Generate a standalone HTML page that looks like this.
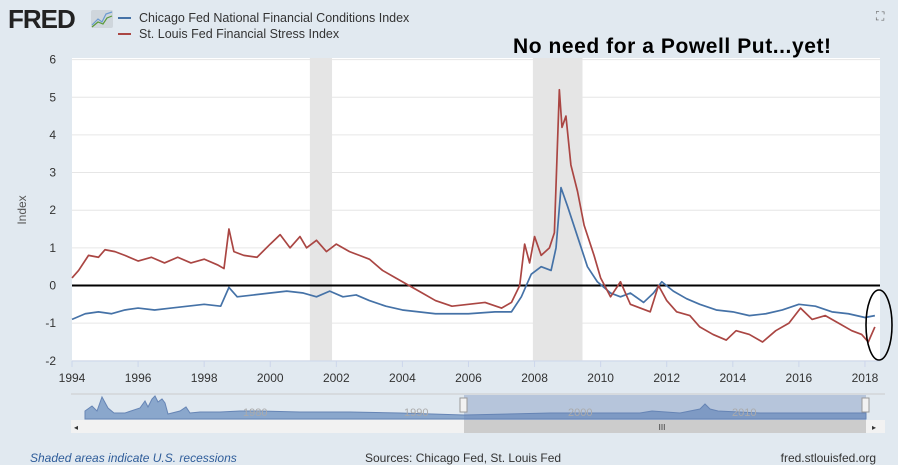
<!DOCTYPE html>
<html><head><meta charset="utf-8"><style>
body{margin:0;background:#e1e9f0;font-family:"Liberation Sans",sans-serif;}
#wrap{position:relative;width:898px;height:465px;overflow:hidden;background:#e1e9f0}
</style></head><body>
<div id="wrap">
<svg id="svg" width="898" height="465" xmlns="http://www.w3.org/2000/svg">
<text x="8" y="28" font-size="26" font-weight="bold" fill="#222" font-family="Liberation Sans" letter-spacing="-1">FRED</text>
<g><rect x="91" y="10" width="22" height="18" rx="2" fill="#cfd6dc"/><polyline points="92,25 98,19 102,22 106,14 112,12" fill="none" stroke="#6a9ad0" stroke-width="1.2"/><polyline points="92,27 98,22 103,24 107,18 112,16" fill="none" stroke="#5a9a3a" stroke-width="1.2"/></g>
<line x1="118" y1="18" x2="131" y2="18" stroke="#4572a7" stroke-width="2"/>
<text x="139" y="22" font-size="12.5" fill="#333">Chicago Fed National Financial Conditions Index</text>
<line x1="118" y1="34" x2="131" y2="34" stroke="#aa4643" stroke-width="2"/>
<text x="139" y="38" font-size="12.5" fill="#333">St. Louis Fed Financial Stress Index</text>
<text x="876" y="20" font-size="12" fill="#666">⛶</text>
<rect x="72" y="58" width="808" height="303" fill="#fff"/>
<g id="grid"></g><g id="rec"></g><g id="series"></g><g id="axes"></g>
<text x="513" y="53" font-size="21" font-weight="bold" fill="#000" textLength="318">No need for a Powell Put...yet!</text>
<ellipse cx="879" cy="325" rx="13" ry="35" fill="none" stroke="#000" stroke-width="1.6"/>
<text transform="translate(26,210) rotate(-90)" font-size="12" fill="#555" text-anchor="middle">Index</text>
<g>
<line x1="71" y1="394" x2="885" y2="394" stroke="#ccc"/>
<path d="M85,411 L92,406 L97,411 L102,397 L108,408 L114,413 L125,413 L140,408 L145,401 L148,407 L152,399 L155,396 L158,402 L162,399 L165,403 L168,414 L180,411 L186,407 L190,413 L200,412 L220,412 L240,411 L260,411 L300,412 L350,412 L400,413 L464,415 L550,413 L600,413 L640,413 L652,411 L680,413 L700,409 L705,404 L710,409 L718,411 L760,413 L866,413 L866,419 L85,419 Z" fill="#8aa7cc" stroke="#6685b5"/>
<rect x="464" y="395" width="402" height="25" fill="#6685b5" fill-opacity="0.35"/>
<text x="243" y="416" font-size="11" fill="#aaa">1980</text><text x="404" y="416" font-size="11" fill="#aaa">1990</text><text x="568" y="416" font-size="11" fill="#aaa">2000</text><text x="732" y="416" font-size="11" fill="#aaa">2010</text>
<rect x="460" y="398" width="7" height="14" fill="#f2f2f2" stroke="#999"/><rect x="862" y="398" width="7" height="14" fill="#f2f2f2" stroke="#999"/>
<rect x="71" y="420" width="814" height="13" fill="#f2f2f2"/>
<rect x="464" y="420" width="402" height="13" fill="#ccc"/>
<text x="662" y="430" font-size="8" fill="#333" text-anchor="middle">III</text>
<text x="74" y="430" font-size="8" fill="#333">◂</text><text x="872" y="430" font-size="8" fill="#333">▸</text>
</g>
<text x="30" y="462" font-size="12" font-style="italic" fill="#2f5d9a">Shaded areas indicate U.S. recessions</text>
<text x="365" y="462" font-size="12" fill="#333">Sources: Chicago Fed, St. Louis Fed</text>
<text x="876" y="462" font-size="12" fill="#333" text-anchor="end">fred.stlouisfed.org</text>
</svg></div>
<script>
const yTicks=[-2,-1,0,1,2,3,4,5,6];
const xTicks=[1994,1996,1998,2000,2002,2004,2006,2008,2010,2012,2014,2016,2018];
const recessions=[[2001.2,2001.87],[2007.95,2009.45]];
const redDates=[1994,1994.2,1994.5,1994.8,1995,1995.3,1995.6,1996,1996.4,1996.8,1997.2,1997.6,1998,1998.4,1998.6,1998.75,1998.9,1999.2,1999.6,2000,2000.3,2000.6,2000.9,2001.1,2001.4,2001.7,2002,2002.4,2002.7,2003,2003.4,2003.8,2004.2,2004.6,2005,2005.5,2006,2006.5,2007,2007.3,2007.55,2007.7,2007.85,2008,2008.2,2008.45,2008.6,2008.75,2008.83,2008.95,2009.1,2009.3,2009.5,2009.8,2010,2010.3,2010.6,2010.9,2011.2,2011.5,2011.75,2012,2012.3,2012.7,2013,2013.4,2013.8,2014.1,2014.5,2014.9,2015.3,2015.7,2016.05,2016.4,2016.8,2017.2,2017.6,2017.9,2018.1,2018.3];
const redVals=[0.2,0.4,0.8,0.75,0.95,0.9,0.8,0.65,0.75,0.6,0.75,0.6,0.7,0.55,0.45,1.5,0.9,0.8,0.75,1.1,1.35,1.0,1.3,1.0,1.2,0.9,1.1,0.9,0.8,0.7,0.4,0.2,0.0,-0.2,-0.4,-0.55,-0.5,-0.45,-0.6,-0.45,0.0,1.1,0.6,1.3,0.8,1.0,1.4,5.2,4.2,4.5,3.2,2.5,1.6,0.8,0.2,-0.3,0.1,-0.5,-0.6,-0.7,0.0,-0.4,-0.7,-0.8,-1.1,-1.3,-1.45,-1.2,-1.3,-1.5,-1.2,-1.0,-0.6,-0.9,-0.8,-1.0,-1.2,-1.3,-1.5,-1.1];
const blueDates=[1994,1994.4,1994.8,1995.2,1995.6,1996,1996.5,1997,1997.5,1998,1998.5,1998.75,1999,1999.5,2000,2000.5,2001,2001.4,2001.8,2002.2,2002.6,2003,2003.5,2004,2004.5,2005,2006,2006.8,2007.3,2007.6,2007.9,2008.2,2008.5,2008.65,2008.8,2009,2009.3,2009.6,2009.9,2010.3,2010.6,2010.9,2011.3,2011.6,2011.85,2012.2,2012.6,2013,2013.5,2014,2014.5,2015,2015.5,2016,2016.5,2017,2017.5,2018,2018.3];
const blueVals=[-0.9,-0.75,-0.7,-0.75,-0.65,-0.6,-0.65,-0.6,-0.55,-0.5,-0.55,-0.05,-0.3,-0.25,-0.2,-0.15,-0.2,-0.3,-0.15,-0.3,-0.25,-0.4,-0.55,-0.65,-0.7,-0.75,-0.75,-0.7,-0.7,-0.3,0.3,0.5,0.4,1.0,2.6,2.1,1.3,0.5,0.1,-0.2,-0.3,-0.2,-0.45,-0.2,0.1,-0.15,-0.35,-0.5,-0.65,-0.7,-0.8,-0.75,-0.65,-0.5,-0.55,-0.7,-0.75,-0.85,-0.8];
const X=d=>72+(d-1994)*33.04, Y=v=>285.5-v*37.65;
const NS='http://www.w3.org/2000/svg';
function mk(t,a,p){const e=document.createElementNS(NS,t);for(const k in a)e.setAttribute(k,a[k]);p.appendChild(e);return e;}
const grid=document.getElementById('grid'),axes=document.getElementById('axes'),rec=document.getElementById('rec'),ser=document.getElementById('series');
yTicks.forEach(v=>{const l=mk('line',{x1:72,x2:880,y1:Y(v),y2:Y(v),stroke:'#e6e6e6'},grid);


const t=mk('text',{x:56,y:Y(v)+4,'font-size':12,fill:'#333','text-anchor':'end'},axes);t.textContent=v;

});
xTicks.forEach(d=>{const t=mk('text',{x:X(d),y:382,'font-size':12,fill:'#333','text-anchor':'middle'},axes);t.textContent=d;


mk('line',{x1:X(d),x2:X(d),y1:361,y2:367,stroke:'#ccd6eb'},axes);});
mk('line',{x1:72,x2:880,y1:361,y2:361,stroke:'#ccd6eb'},axes);
recessions.forEach(r=>{const e=mk('rect',{x:X(r[0]),y:58,width:X(r[1])-X(r[0]),height:303,fill:'#e5e5e5'},rec);

});
const z=mk('line',{x1:72,x2:880,y1:Y(0),y2:Y(0),stroke:'#000','stroke-width':2},ser);


function line(ds,vs,c,n){const p=mk('polyline',{points:ds.map((d,i)=>X(d)+','+Y(vs[i])).join(' '),fill:'none',stroke:c,'stroke-width':1.7,'stroke-linejoin':'round'},ser);

}
line(blueDates,blueVals,'#4572a7','nfci-line');
line(redDates,redVals,'#aa4643','stlfsi-line');
</script></body></html>
